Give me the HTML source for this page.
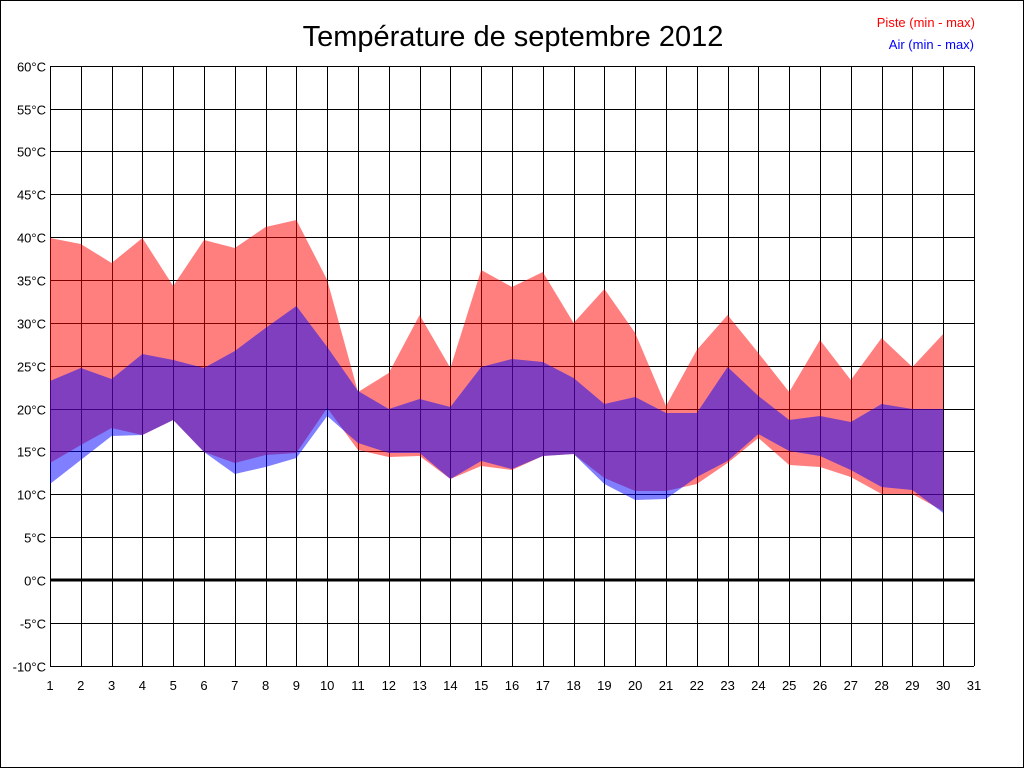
<!DOCTYPE html>
<html><head><meta charset="utf-8"><style>
html,body{margin:0;padding:0;background:#fff}
svg{display:block}
text{font-family:"Liberation Sans",Arial,sans-serif}
</style></head><body>
<svg width="1024" height="768" xmlns="http://www.w3.org/2000/svg" id="s">
<rect x="0.5" y="0.5" width="1023" height="767" fill="#fff" stroke="#000"/>
<g id="grid" stroke="#000" stroke-width="1"></g>
<polygon id="red" fill="rgba(255,0,0,0.5)"/>
<polygon id="blue" fill="rgba(0,0,255,0.5)"/>
<line x1="50" y1="580" x2="974" y2="580" stroke="#000" stroke-width="3"/>
<g id="labels" font-size="13" fill="#000"></g>
<text x="513" y="46" font-size="29" text-anchor="middle">Température de septembre 2012</text>
<text x="975" y="27" font-size="13" fill="#f00" text-anchor="end">Piste (min - max)</text>
<text x="974" y="49" font-size="13" fill="#00f" text-anchor="end">Air (min - max)</text>
</svg>
<script>
var ns="http://www.w3.org/2000/svg";
function X(d){return 50+(d-1)*30.8;}
var g=document.getElementById('grid'),L=document.getElementById('labels');
function el(p,t,a){var e=document.createElementNS(ns,t);for(var k in a)e.setAttribute(k,a[k]);p.appendChild(e);return e;}
for(var d=1;d<=31;d++){var x=Math.round(X(d))+0.5;el(g,'line',{x1:x,y1:66,x2:x,y2:666});
var t=el(L,'text',{x:X(d),y:690,'text-anchor':'middle'});t.textContent=d;}
for(var v=-10;v<=60;v+=5){var y=Math.round(580-v*600/70)+0.5;el(g,'line',{x1:50,y1:y,x2:974,y2:y});
var t=el(L,'text',{x:46,y:y+5,'text-anchor':'end'});t.textContent=v+'°C';}
var rmax=[238,244,263,238,286,240,248,227,220,280,392,373,315,368,270,287,272,323,289,333,406,350,315,353,392,340,380,338,367,334];
var rmin=[463,445,428,435,420,452,463,455,453,408,450,457,456,479,466,470,456,454,478,491,491,484,463,438,465,467,477,494,494,511];
var bmax=[381,368,379,354,360,368,351,328,306,347,391,409,399,407,367,359,362,378,404,397,413,413,367,396,420,416,422,404,409,409];
var bmin=[484,460,436,435,420,452,474,467,458,416,443,453,453,479,461,469,456,454,484,500,499,477,461,434,451,456,470,487,490,513];
function poly(a,b){var p=[];for(var i=0;i<30;i++)p.push(X(i+1)+','+a[i]);for(var i=29;i>=0;i--)p.push(X(i+1)+','+b[i]);return p.join(' ');}
document.getElementById('red').setAttribute('points',poly(rmax,rmin));
document.getElementById('blue').setAttribute('points',poly(bmax,bmin));
</script>
</body></html>
